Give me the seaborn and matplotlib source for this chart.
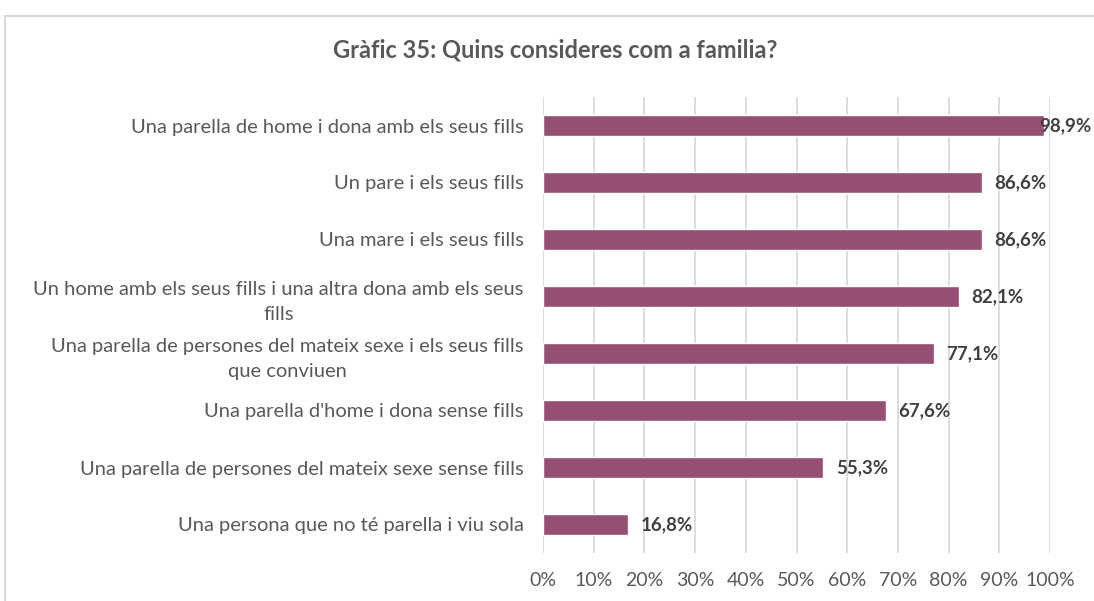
import matplotlib
matplotlib.use("Agg")
import matplotlib.pyplot as plt
import seaborn as sns
import pandas as pd
from matplotlib.patches import Rectangle

categories = [
    "Una parella de home i dona amb els seus fills",
    "Un pare i els seus fills",
    "Una mare i els seus fills",
    "Un home amb els seus fills i una altra dona amb els seus\nfills",
    "Una parella de persones del mateix sexe i els seus fills\nque conviuen",
    "Una parella d'home i dona sense fills",
    "Una parella de persones del mateix sexe sense fills",
    "Una persona que no té parella i viu sola",
]
values = [98.9, 86.6, 86.6, 82.1, 77.1, 67.6, 55.3, 16.8]
value_labels = ["98,9%", "86,6%", "86,6%", "82,1%", "77,1%", "67,6%", "55,3%", "16,8%"]
xticks = [0, 10, 20, 30, 40, 50, 60, 70, 80, 90, 100]
xtick_labels = [f"{t}%" for t in xticks]
title = "Gràfic 35: Quins consideres com a familia?"

sns.set_theme(style="white")
plt.rcParams["font.family"] = ["Lato", "DejaVu Sans"]

df = pd.DataFrame({"cat": categories, "val": values})

fig = plt.figure(figsize=(10.94, 6.01), dpi=100)
fig.patch.set_facecolor("white")
# chart border
fig.add_artist(Rectangle((5 / 1094, -0.1), 1.2, 1 - 16 / 601 + 0.1,
                         transform=fig.transFigure, fill=False,
                         edgecolor="#D9D9D9", linewidth=1.5))

ax = fig.add_axes([543 / 1094, 1 - 553 / 601, (1050 - 543) / 1094, (553 - 97) / 601])
sns.barplot(data=df, x="val", y="cat", orient="h", color="#954F72",
            saturation=1, width=0.36, ax=ax, zorder=3)

ax.set_xlim(0, 100)
ax.set_ylim(7.5, -0.5)
ax.set_xticks(xticks)
ax.set_xticklabels(xtick_labels, color="#595959", fontsize=14)
ax.tick_params(axis="x", length=0, pad=14)
ax.tick_params(axis="y", length=0, pad=14)
ax.set_yticklabels(categories, color="#595959", fontsize=14.5, linespacing=1.55)
for lbl in ax.get_yticklabels():
    lbl.set_horizontalalignment("right")
    lbl.set_multialignment("center")
ax.set_xlabel("")
ax.set_ylabel("")
ax.grid(axis="x", color="#D9D9D9", linewidth=1.3, zorder=0)
for s in ax.spines.values():
    s.set_visible(False)

for i, (v, t) in enumerate(zip(values, value_labels)):
    off = -3.5 if i == 0 else 9
    ax.annotate(t, (v, i), xytext=(off, 0), textcoords="offset points",
                va="center", ha="left", fontsize=13.5, fontweight="bold",
                color="#404040", annotation_clip=False, zorder=5)

fig.text(555 / 1094, 1 - 50 / 601, title, ha="center", va="center",
         fontsize=17, fontweight="bold", color="#595959")

fig.savefig("out.png", dpi=100)
